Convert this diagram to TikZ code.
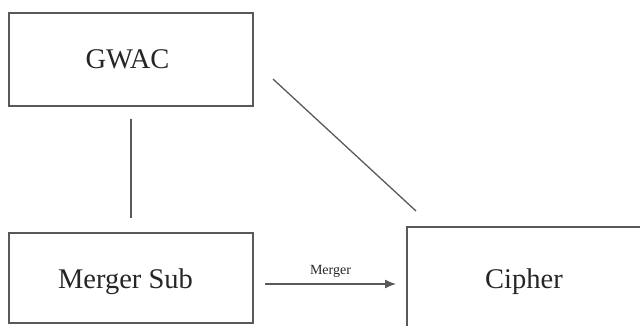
\documentclass[tikz,border=0pt]{standalone}
\usepackage{fontspec}
\setmainfont{Liberation Serif}
\usetikzlibrary{arrows.meta}
\begin{document}
\begin{tikzpicture}[x=1pt,y=-1pt,
  box/.style={draw=black!65,line width=1.3pt,minimum width=#1,inner sep=0pt},
  lbl/.style={font=\fontsize{28.5}{34}\selectfont,text=black!85,inner sep=0pt,anchor=base},
  conn/.style={draw=black!65,line width=1.3pt}]
\useasboundingbox (0,0) rectangle (640,325);
\clip (0,0) rectangle (640,325);
\node[box=244pt,minimum height=93pt] (gwac) at (131,59.5) {};
\node[box=244pt,minimum height=90pt] (msub) at (131,278) {};
\node[box=260pt,minimum height=110pt] (cipher) at (537,282) {};
\node[lbl] (tg) at (127.5,68) {GWAC};
\node[lbl] (tm) at (125.5,288) {Merger Sub};
\node[lbl] (tc) at (524,288) {Cipher};
\coordinate (d1) at (273,79);
\coordinate (d2) at (416,211);
\coordinate (a1) at (265,284);
\coordinate (a2) at (396,284);
\draw[conn,shorten <=12pt,shorten >=14pt] (gwac.south -| 131,0) -- (msub.north -| 131,0);
\draw[conn] (d1) -- (d2);
\draw[conn,-{Latex[length=11pt,width=9pt]}] (a1) -- node[above=3pt,font=\fontsize{14}{16}\selectfont,text=black!85] {Merger} (a2);
\end{tikzpicture}
\end{document}
